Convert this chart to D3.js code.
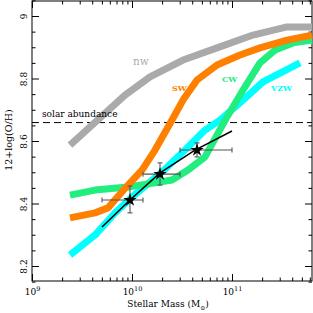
<!DOCTYPE html>
<html>
<head>
<meta charset="utf-8">
<script src="https://cdn.jsdelivr.net/npm/d3@7"></script>
<style>
  body { margin: 0; background: #fff; }
  svg text { font-family: "DejaVu Serif", serif; }
</style>
</head>
<body>
<div id="chart"></div>
<script>
// log10 stellar mass and 12+log(O/H)
var nwMass  = [9.38, 9.68, 9.93, 10.18, 10.51, 10.85, 11.21, 11.55, 11.8];
var nwOH    = [8.587, 8.674, 8.747, 8.805, 8.859, 8.898, 8.939, 8.965, 8.965];
var swMass  = [9.38, 9.63, 9.76, 9.96, 10.10, 10.23, 10.40, 10.51, 10.65, 10.85, 11.08, 11.28, 11.55, 11.8];
var swOH    = [8.354, 8.370, 8.386, 8.459, 8.507, 8.571, 8.667, 8.731, 8.795, 8.843, 8.875, 8.898, 8.923, 8.939];
var cwMass  = [9.38, 9.63, 9.96, 10.23, 10.40, 10.56, 10.73, 10.95, 11.11, 11.28, 11.43, 11.61, 11.8];
var cwOH    = [8.427, 8.443, 8.453, 8.466, 8.475, 8.507, 8.549, 8.677, 8.763, 8.850, 8.891, 8.914, 8.923];
var vzwMass = [9.38, 9.63, 9.83, 10.00, 10.30, 10.53, 10.73, 10.88, 11.11, 11.31, 11.68];
var vzwOH   = [8.235, 8.299, 8.370, 8.421, 8.501, 8.571, 8.635, 8.667, 8.731, 8.789, 8.850];
var fitMass = [9.70, 9.98, 10.28, 10.63, 11.0];
var fitOH   = [8.325, 8.411, 8.498, 8.571, 8.632];
// observed points with error ranges
var obsMass = [9.98, 10.28, 10.65];
var obsOH   = [8.411, 8.494, 8.571];
var obsMassLo = [9.70, 10.11, 10.48];
var obsMassHi = [10.11, 10.48, 11.0];
var obsOHLo = [8.370, 8.459, 8.549];
var obsOHHi = [8.456, 8.530, 8.594];
var solarOH = 8.659;
var xMajor = [9, 10, 11];
var yMajor = [8.2, 8.4, 8.6, 8.8, 9.0];

var margin = {top: 1, right: 1, bottom: 32, left: 32},
    width = 313 - margin.left - margin.right,
    height = 313 - margin.top - margin.bottom;

var x = d3.scaleLog()
    .domain([1e9, Math.pow(10, 11.8)])
    .range([0, width]);

var y = d3.scaleLinear()
    .domain([8.152, 9.048])
    .range([height, 0]);

var svg = d3.select("#chart")
    .append("svg")
    .attr("width", 313)
    .attr("height", 313)
    .append("g")
    .attr("transform", "translate(" + margin.left + "," + margin.top + ")");

// tick values
var xMinor = [];
[9, 10, 11].forEach(function (e) {
    for (var k = 2; k <= 9; k++) {
        var v = k * Math.pow(10, e);
        if (v <= Math.pow(10, 11.8)) xMinor.push(v);
    }
});
var xMajorV = xMajor.map(function (e) { return Math.pow(10, e); });
var yMinor = d3.range(8.15, 9.05, 0.05).filter(function (v) {
    return Math.abs(Math.round(v * 5) - v * 5) > 0.01;
});

function styleAxis(g) {
    g.select(".domain").remove();
    g.selectAll(".tick line").attr("stroke", "#000");
}

// bottom axis
svg.append("g")
    .attr("transform", "translate(0," + height + ")")
    .call(d3.axisBottom(x).tickValues(xMajorV).tickSize(-7).tickPadding(8).tickFormat(""))
    .call(styleAxis)
    .selectAll(".tick text")
    .each(function (d) {
        var t = d3.select(this).attr("font-size", 9).attr("fill", "#000");
        t.append("tspan").text("10");
        t.append("tspan").attr("dy", -4).attr("font-size", 6.5).text(Math.round(Math.log10(d)));
    });
svg.append("g")
    .attr("transform", "translate(0," + height + ")")
    .call(d3.axisBottom(x).tickValues(xMinor).tickSize(-3.5).tickFormat(""))
    .call(styleAxis);
// top axis
svg.append("g")
    .call(d3.axisTop(x).tickValues(xMajorV).tickSize(-7).tickFormat(""))
    .call(styleAxis);
svg.append("g")
    .call(d3.axisTop(x).tickValues(xMinor).tickSize(-3.5).tickFormat(""))
    .call(styleAxis);

// left axis
svg.append("g")
    .call(d3.axisLeft(y).tickValues(yMajor).tickSize(-7).tickFormat(function (d) { return d === 9 ? "9" : d3.format(".1f")(d); }))
    .call(styleAxis)
    .selectAll(".tick text")
    .attr("font-size", 9)
    .attr("fill", "#000")
    .attr("text-anchor", "middle")
    .attr("transform", "rotate(-90)")
    .attr("x", 0)
    .attr("y", -5)
    .attr("dy", 0);
svg.append("g")
    .call(d3.axisLeft(y).tickValues(yMinor).tickSize(-3.5).tickFormat(""))
    .call(styleAxis);
// right axis
svg.append("g")
    .attr("transform", "translate(" + width + ",0)")
    .call(d3.axisRight(y).tickValues(yMajor).tickSize(-7).tickFormat(""))
    .call(styleAxis);
svg.append("g")
    .attr("transform", "translate(" + width + ",0)")
    .call(d3.axisRight(y).tickValues(yMinor).tickSize(-3.5).tickFormat(""))
    .call(styleAxis);

// frame
svg.append("rect")
    .attr("width", width)
    .attr("height", height)
    .attr("fill", "none")
    .attr("stroke", "#000")
    .attr("stroke-width", 1);

// solar abundance
svg.append("line")
    .attr("x1", 0).attr("x2", width)
    .attr("y1", y(solarOH)).attr("y2", y(solarOH))
    .attr("stroke", "#000")
    .attr("stroke-dasharray", "7,4");

var line = d3.line()
    .x(function (d) { return x(Math.pow(10, d[0])); })
    .y(function (d) { return y(d[1]); });

function curve(mass, oh, color, w) {
    svg.append("path")
        .datum(d3.zip(mass, oh))
        .attr("d", line)
        .attr("fill", "none")
        .attr("stroke", color)
        .attr("stroke-width", w)
        .attr("stroke-linejoin", "round");
}

curve(nwMass, nwOH, "#aaaaaa", 7);
curve(vzwMass, vzwOH, "#00ffff", 7);
curve(cwMass, cwOH, "#22ee80", 7);
curve(swMass, swOH, "#ff8000", 7);
curve(fitMass, fitOH, "#000", 1.5);

svg.append("text")
    .attr("x", 10)
    .attr("y", y(solarOH) - 6)
    .attr("font-size", 9)
    .text("solar abundance");

// error bars
var errColor = "#555";
obsMass.forEach(function (m, i) {
    var cx = x(Math.pow(10, m)), cy = y(obsOH[i]);
    var xl = x(Math.pow(10, obsMassLo[i])), xr = x(Math.pow(10, obsMassHi[i]));
    var yt = y(obsOHHi[i]), yb = y(obsOHLo[i]);
    var g = svg.append("g").attr("stroke", errColor).attr("stroke-width", 1.1);
    g.append("line").attr("x1", xl).attr("x2", xr).attr("y1", cy).attr("y2", cy);
    g.append("line").attr("x1", cx).attr("x2", cx).attr("y1", yt).attr("y2", yb);
    g.append("line").attr("x1", xl).attr("x2", xl).attr("y1", cy - 2.5).attr("y2", cy + 2.5);
    g.append("line").attr("x1", xr).attr("x2", xr).attr("y1", cy - 2.5).attr("y2", cy + 2.5);
    g.append("line").attr("x1", cx - 2.5).attr("x2", cx + 2.5).attr("y1", yt).attr("y2", yt);
    g.append("line").attr("x1", cx - 2.5).attr("x2", cx + 2.5).attr("y1", yb).attr("y2", yb);
});
svg.selectAll(".star")
    .data(obsMass)
    .enter()
    .append("path")
    .attr("class", "star")
    .attr("d", d3.symbol(d3.symbolStar).size(55))
    .attr("transform", function (d, i) {
        return "translate(" + x(Math.pow(10, d)) + "," + y(obsOH[i]) + ")";
    })
    .attr("fill", "#000");

// curve labels
svg.append("text").attr("x", 101).attr("y", 64).attr("font-size", 10.5).attr("fill", "#aaaaaa").text("nw");
svg.append("text").attr("x", 140).attr("y", 90).attr("font-size", 8).attr("font-weight", "bold").attr("fill", "#ff8000").text("SW");
svg.append("text").attr("x", 190).attr("y", 81).attr("font-size", 8).attr("font-weight", "bold").attr("fill", "#22ee80").text("CW");
svg.append("text").attr("x", 239).attr("y", 90).attr("font-size", 8).attr("font-weight", "bold").attr("fill", "#00ffff").text("VZW");

// axis titles
svg.append("text")
    .attr("transform", "rotate(-90)")
    .attr("x", -(140 - margin.top))
    .attr("y", 12 - margin.left)
    .attr("text-anchor", "middle")
    .attr("font-size", 9.5)
    .text("12+log(O/H)");

var xt = svg.append("text")
    .attr("x", 168 - margin.left)
    .attr("y", 307 - margin.top)
    .attr("text-anchor", "middle")
    .attr("font-size", 9);
xt.append("tspan").text("Stellar Mass (M");
xt.append("tspan").attr("dy", 3).attr("font-size", 6).text("\u2299");
xt.append("tspan").attr("dy", -3).text(")");
</script>
</body>
</html>
